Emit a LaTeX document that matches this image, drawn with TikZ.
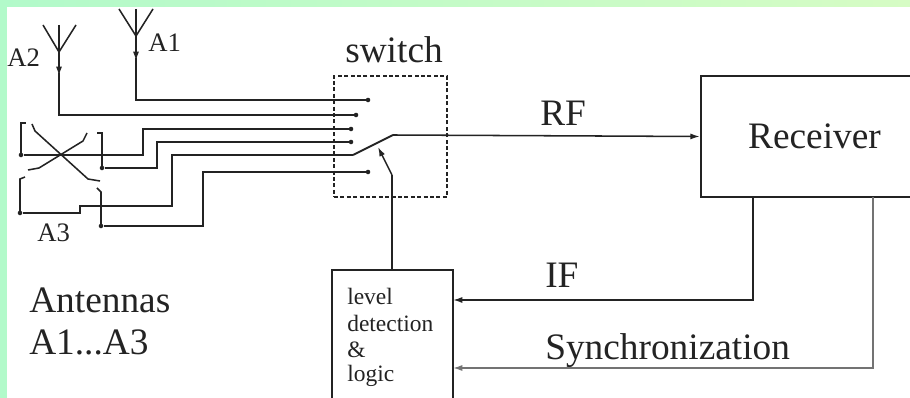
\documentclass[tikz,border=0pt]{standalone}
\usepackage{fontspec}
\setmainfont{Liberation Serif}
\usetikzlibrary{arrows.meta}
\definecolor{mintL}{RGB}{178,250,202}
\definecolor{mintR}{RGB}{214,252,196}
\definecolor{ink}{RGB}{35,35,35}
\definecolor{greyline}{RGB}{115,115,115}
\tikzset{
  big/.style={font=\fontsize{28}{34}\selectfont, inner sep=0pt, anchor=base west, text=ink},
  small/.style={font=\fontsize{20}{24}\selectfont, inner sep=0pt, anchor=base west, text=ink},
  tiny/.style={font=\fontsize{17.6}{20}\selectfont, inner sep=0pt, anchor=base west, text=ink},
  wire/.style={draw=ink, line width=1.15pt},
  thickbox/.style={draw=ink, line width=1.8pt, inner sep=0pt},
  dashbox/.style={draw=ink, line width=1.7pt, dash pattern=on 3pt off 1.8pt, inner sep=0pt},
  arr/.style={wire, -{Latex[length=7pt,width=4.5pt]}},
  dot/.style={fill=ink, draw=none, circle, minimum size=3.4pt, inner sep=0pt},
}
\begin{document}
\begin{tikzpicture}[x=0.75pt, y=-0.75pt]
\useasboundingbox (0,0) rectangle (910,398);
\clip (0,0) rectangle (910,398);
% background and frame
\fill[white] (0,0) rectangle (910,398);
\fill[left color=mintL, right color=mintR] (0,0) rectangle (910,7);
\fill[mintL] (0,0) rectangle (7,398);

% blocks
\node[dashbox, minimum width=84.75pt, minimum height=90.75pt] (sw) at (390.5,136.5) {};
\node[thickbox, minimum width=170.25pt, minimum height=90.75pt,
      font=\fontsize{28}{34}\selectfont, text=ink] (recv) at (814.5,136.5) {Receiver};
\node[thickbox, minimum width=90.75pt, minimum height=120pt] (ld) at (392.5,350) {};

% texts
\node[big] (swt) at (345,63) {switch};
\node[big] (rft) at (540,126) {RF};
\node[big] (ift) at (545,288) {IF};
\node[big] (synct) at (545,360) {Synchronization};
\node[big] (ant1) at (29,313) {Antennas};
\node[big] (ant2) at (29,355) {A1...A3};
\node[small] (a1t) at (148,52) {A1};
\node[small] (a2t) at (7,67) {A2};
\node[small] (a3t) at (37,242) {A3};
\node[tiny] (l1) at (347,305) {level};
\node[tiny] (l2) at (347,332) {detection};
\node[tiny] (l3) at (347,358) {\&};
\node[tiny] (l4) at (347,382) {logic};

% antenna A1
\coordinate (a1) at (136,36);
\draw[wire] (119,9) -- (a1) -- (153,9);
\draw[wire] (136,9) -- (a1);
\draw[arr] (a1) -- (136,61);
\draw[wire] (136,58) -- (136,100) -- (368,100);
\node[dot] (d1) at (368,100) {};

% antenna A2
\coordinate (a2) at (59,52);
\draw[wire] (43,25) -- (a2) -- (76,25);
\draw[wire] (59,25) -- (a2);
\draw[arr] (a2) -- (59,76);
\draw[wire] (59,73) -- (59,115) -- (356,115);
\node[dot] (d2) at (356,115) {};

% antenna A3 (crossed dipoles)
\draw[wire] (21,155) -- (21,123) -- (26,123);
\draw[wire] (32,124) -- (35,131) -- (88,179) -- (100,181);
\draw[wire] (87,133) -- (83,141) -- (39,168) -- (28,170);
\draw[wire] (97,133) -- (102,133) -- (102,168);
\draw[wire] (25,177) -- (20,179) -- (20,213);
\draw[wire] (97,188) -- (101,192) -- (101,226);
\node[dot] (t1) at (21,155) {};
\node[dot] (t2) at (102,168) {};
\node[dot] (t3) at (20,213) {};
\node[dot] (t4) at (101,226) {};

\draw[wire] (t1) -- (143,155) -- (143,129) -- (351,129);
\node[dot] (d3) at (351,129) {};
\draw[wire] (t2) -- (157,168) -- (157,142) -- (351,142);
\node[dot] (d4) at (351,142) {};
\coordinate (lev1) at (353,155);
\draw[wire] (t3) -- (80,213) -- (80,206) -- (172,206) -- (172,155) -- (lev1);
\draw[wire] (t4) -- (203,226) -- (203,172) -- (368,172);
\node[dot] (d6) at (368,172) {};

% switch lever and RF
\coordinate (lev2) at (393,135);
\draw[wire, line width=1.5pt] (lev1) -- (lev2);
\draw[arr] (lev2) -- (recv.west);

% control from logic to switch
\coordinate (ctl) at (392,175);
\draw[wire] (ld.north -| ctl) -- (ctl);
\draw[arr] (ctl) -- (378,147);

% IF and synchronization back to logic
\coordinate (ifs) at (753,197);
\coordinate (ifin) at (453,300);
\draw[arr] (ifs) |- (ifin);
\coordinate (sys) at (873,197);
\coordinate (syin) at (453,368);
\draw[arr, draw=greyline] (sys) |- (syin);
\end{tikzpicture}
\end{document}
